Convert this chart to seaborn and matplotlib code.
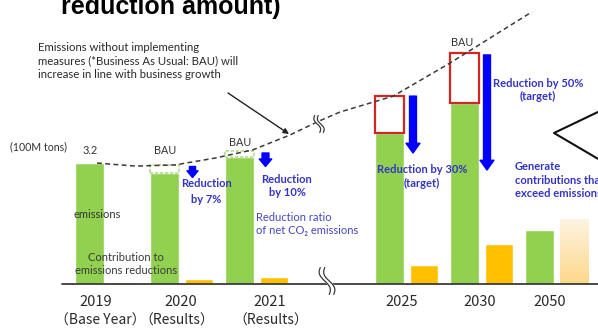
import numpy as np
import pandas as pd
import matplotlib
matplotlib.use("Agg")
import matplotlib.pyplot as plt
import seaborn as sns
from matplotlib.patches import FancyArrowPatch
from matplotlib.colors import LinearSegmentedColormap

# ---- data (100M tons of CO2) ----
years = ["2019", "2020", "2021", "2025", "2030", "2050"]
year_notes = ["（Base Year）", "（Results）", "（Results）", "", "", ""]
slots = [0, 1, 2, 4, 5, 6]          # 2022-2024 are skipped by the axis break
emissions = [3.20, 2.94, 3.35, 3.99, 4.79, 1.43]
bau = [3.20, 3.15, 3.52, 4.97, 6.11, np.nan]
contribution = [0.05, 0.13, 0.19, 0.50, 1.06, 1.72]

# business-as-usual trend (slot position, 100M tons)
trend_x = [-0.13, 0.38, 0.91, 1.44, 1.95, 2.44, 2.83, 3.11, 3.82, 4.58, 5.67]
trend_y = [3.20, 3.12, 3.15, 3.33, 3.55, 3.94, 4.31, 4.55, 4.97, 5.85, 7.20]

GREEN = "#92d050"
ORANGE = "#ffc000"
BLUE = "#0000ff"
TXT_BLUE = "#3434c4"
RED = "#d4261e"

sns.set_style("white")
plt.rcParams["font.family"] = ["Lato", "DejaVu Sans"]

W, H = 598, 330
fig = plt.figure(figsize=(W / 100, H / 100), dpi=100)
ax = fig.add_axes([0, 0, 1, 1])

# pixel -> data helpers used for placing annotations
X0, SX, Y0, SY = 106.75, 75.0, 284.0, 37.8
def dx(px):
    return (px - X0) / SX
def dy(py):
    return (Y0 - py) / SY

df = pd.DataFrame({
    "slot": slots * 2,
    "kind": ["Emissions"] * len(slots) + ["Contribution"] * len(slots),
    "value": emissions + contribution,
})
sns.barplot(data=df, x="slot", y="value", hue="kind", native_scale=True,
            width=0.92, gap=0.16, palette={"Emissions": GREEN, "Contribution": ORANGE},
            saturation=1, errorbar=None, legend=False, ax=ax, zorder=2)

bars = sorted(ax.patches, key=lambda p: p.get_x())
green_rgb = matplotlib.colors.to_rgb(GREEN)
green_bars = [p for p in bars if np.allclose(p.get_facecolor()[:3], green_rgb)]
orange_bars = [p for p in bars if p not in green_bars]

# 2050 contribution: pale gradient fill
p50 = orange_bars[-1]
p50.set_facecolor("none")
cmap = LinearSegmentedColormap.from_list("pale", ["#fcd88a", "#fef4e2"])
grad = np.linspace(0, 1, 100).reshape(-1, 1)
x0 = p50.get_x(); w = p50.get_width(); h = p50.get_height()
im = ax.imshow(grad, extent=[x0, x0 + w, 0, h], origin="lower", cmap=cmap,
               aspect="auto", zorder=2)
im.set_clip_path(p50)

# BAU boxes above the actual emissions
for i, gb in enumerate(green_bars):
    if i == 0 or np.isnan(bau[i]) or bau[i] <= emissions[i]:
        continue
    if slots[i] <= 2:
        ec, ls, lw = "#b5dc8f", (0, (2, 1)), 1.2
    else:
        ec, ls, lw = RED, "-", 1.6
    ax.bar(gb.get_x() + gb.get_width() / 2, bau[i] - emissions[i], bottom=emissions[i],
           width=gb.get_width(), facecolor="white", edgecolor=ec, linestyle=ls,
           linewidth=lw, zorder=3)

# BAU trend line
sns.lineplot(x=trend_x, y=trend_y, ax=ax, color="#3a3a3a", lw=1.1,
             linestyle=(0, (3.2, 2.2)), sort=False, zorder=6)

# baseline
ax.plot([dx(62), dx(598)], [0, 0], color="#3a3a3a", lw=1.3, zorder=4)

# break marks
def squiggle(cx, cy, hgt, amp, gapw, slant):
    t = np.linspace(-1, 1, 60)
    xs = cx + amp * np.sin(np.pi * t) + slant * t
    ys = cy + hgt / 2 * t
    xl, xr = xs - gapw / 2, xs + gapw / 2
    ax.fill(dx(np.r_[xl, xr[::-1]]), dy(np.r_[ys, ys[::-1]]), color="white", zorder=7)
    ax.plot(dx(xl), dy(ys), color="#3a3a3a", lw=0.9, zorder=8)
    ax.plot(dx(xr), dy(ys), color="#3a3a3a", lw=0.9, zorder=8)

squiggle(319, 124, 17, 2.0, 3.5, 2.5)
squiggle(327, 281, 27, 3.0, 4.5, 4.5)

# reduction arrows
def block_arrow(x, y_top, y_bot, scale, tail=0.5, head_w=1.0, head_l=0.7):
    arr = FancyArrowPatch((x, y_top), (x, y_bot),
                          arrowstyle=f"simple,head_length={head_l},head_width={head_w},tail_width={tail}",
                          mutation_scale=scale, color=BLUE, shrinkA=0, shrinkB=0, zorder=6)
    ax.add_patch(arr)

block_arrow(dx(192.5), dy(166.5), dy(177.5), 8, tail=0.55, head_w=1.0, head_l=0.6)
block_arrow(dx(265.5), dy(153), dy(166.5), 9, tail=0.55, head_w=1.0, head_l=0.6)
block_arrow(dx(413), bau[3], dy(153), 10)
block_arrow(dx(487), bau[4] - 0.05, dy(170), 10)

# annotation arrow for the BAU explanation
ax.annotate("", xy=(dx(289), dy(134)), xytext=(dx(228), dy(93)),
            arrowprops=dict(arrowstyle="-|>", color="#222222", lw=1.0,
                            mutation_scale=8, shrinkA=0, shrinkB=0), zorder=6)

# chevron on the right
ax.plot([dx(600), dx(554), dx(600)], [dy(111), dy(133), dy(160)],
        color="#111111", lw=1.5, zorder=6, clip_on=False)

def T(px, py, s, **kw):
    kw.setdefault("ha", "center")
    kw.setdefault("va", "center")
    kw.setdefault("fontsize", 8)
    kw.setdefault("color", "#333333")
    return ax.text(dx(px), dy(py), s, zorder=9, **kw)

# title fragment at the top
T(171, 14, "reduction amount)", fontsize=18, fontweight="bold", color="black",
  va="baseline", family=["Liberation Sans", "DejaVu Sans"])

T(38, 61, "Emissions without implementing\nmeasures (*Business As Usual: BAU) will\n"
  "increase in line with business growth", ha="left", fontsize=8.2,
  linespacing=1.3, color="#2a2a2a")

T(38, 147, "(100M tons)", fontsize=7.6)
T(90, 151, f"{emissions[0]:.1f}", fontsize=7.8)
T(165, 150, "BAU", fontsize=7.8)
T(240, 143, "BAU", fontsize=7.8)
T(462, 42, "BAU", fontsize=7.8)

T(73, 215, "emissions", ha="left", fontsize=8, color="#333333")
T(126, 264, "Contribution to\nemissions reductions", fontsize=8, linespacing=1.3,
  color="#3a3a3a")

T(206, 191.5, "Reduction\nby 7%", fontsize=8, fontweight="bold", color=TXT_BLUE,
  linespacing=1.5)
T(287, 186, "Reduction\nby 10%", fontsize=8, fontweight="bold", color=TXT_BLUE,
  linespacing=1.3)
T(256, 224, "Reduction ratio\nof net CO\u2082 emissions", ha="left", fontsize=8,
  color="#4646c0", linespacing=1.3)
T(422, 176.5, "Reduction by 30%\n(target)", fontsize=8, fontweight="bold",
  color=TXT_BLUE, linespacing=1.3)
T(538, 90, "Reduction by 50%\n(target)", fontsize=8, fontweight="bold",
  color=TXT_BLUE, linespacing=1.3)
T(515, 180, "Generate\ncontributions that\nexceed emissions", ha="left",
  fontsize=8, fontweight="bold", color=TXT_BLUE, linespacing=1.3)

# year labels
cjk = ["Noto Sans CJK JP", "DejaVu Sans"]
label_px = [96, 181, 270, 402, 480, 550]
note_shift = [4, -4, 1, 0, 0, 0]
for lp, yr, note, sh in zip(label_px, years, year_notes, note_shift):
    T(lp, 302, yr, fontsize=10.5, family=cjk, color="#2a2a2a")
    if note:
        T(lp + sh, 321, note, fontsize=10, family=cjk, color="#2a2a2a")

ax.set_xlim(dx(0), dx(W))
ax.set_ylim(dy(H), dy(0))
ax.set_axis_off()

fig.savefig("out.png", dpi=100)
